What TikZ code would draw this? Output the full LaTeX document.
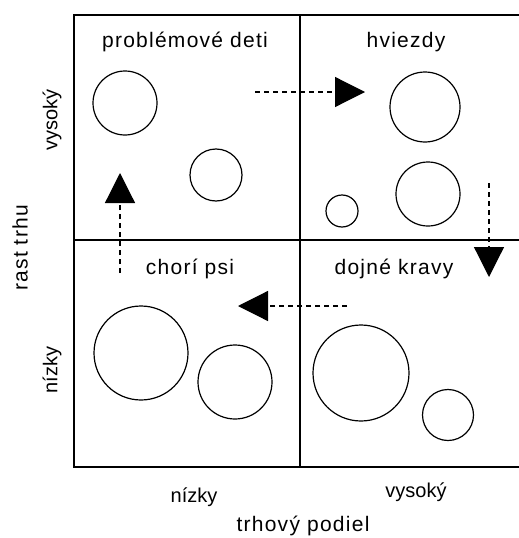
\documentclass[tikz,border=0pt]{standalone}
\usepackage{fontspec}
\setmainfont{Liberation Sans}
\newfontfamily\widefont[LetterSpace=6]{Liberation Sans}
\usetikzlibrary{arrows.meta}

\begin{document}
\begin{tikzpicture}[x=1pt,y=-1pt,
  frame/.style={line width=2pt},
  bubble/.style={circle,draw,line width=1.2pt,inner sep=0pt},
  title/.style={font=\widefont\fontsize{21}{24}\selectfont,inner sep=0pt},
  level/.style={font=\fontsize{20}{23}\selectfont,inner sep=0pt},
  move/.style={line width=1.2pt,dash pattern=on 5pt off 4pt,
    -{Triangle[length=30pt,width=30pt]}}]
  \useasboundingbox (0,0) rectangle (519,538);

  % quadrant frame
  \coordinate (tl) at (74,15);
  \coordinate (tr) at (519,15);
  \coordinate (bl) at (74,467);
  \coordinate (br) at (519,467);
  \coordinate (mt) at (300,15);
  \coordinate (mb) at (300,467);
  \coordinate (ml) at (74,240);
  \coordinate (mr) at (519,240);
  \draw[frame] (tr) -- (tl) -- (bl) -- (br);
  \draw[frame] (mt) -- (mb);
  \draw[frame] (ml) -- (mr);

  % quadrant titles
  \node[title] (q1) at (185,42) {problémové deti};
  \node[title] (q2) at (406,42) {hviezdy};
  \node[title] (q3) at (190,269) {chorí psi};
  \node[title] (q4) at (394,269) {dojné kravy};

  % bubbles
  \node[bubble,minimum size=64pt] (c1) at (125,103) {};
  \node[bubble,minimum size=52pt] (c2) at (216,175) {};
  \node[bubble,minimum size=70pt] (c3) at (425,107) {};
  \node[bubble,minimum size=64pt] (c4) at (428,194) {};
  \node[bubble,minimum size=32pt] (c5) at (342,211) {};
  \node[bubble,minimum size=94pt] (c6) at (141,353) {};
  \node[bubble,minimum size=74pt] (c7) at (235,382) {};
  \node[bubble,minimum size=96pt] (c8) at (361,373) {};
  \node[bubble,minimum size=51pt] (c9) at (448,415) {};

  % movement between quadrants
  \coordinate (a1s) at (255,92);  \coordinate (a1e) at (365,92);
  \coordinate (a2s) at (489,183); \coordinate (a2e) at (489,277);
  \coordinate (a3s) at (347,306); \coordinate (a3e) at (238,306);
  \coordinate (a4s) at (120,273); \coordinate (a4e) at (120,173);
  \draw[move] (a1s) -- (a1e);
  \draw[move] (a2s) -- (a2e);
  \draw[move] (a3s) -- (a3e);
  \draw[move] (a4s) -- (a4e);

  % axes
  \node[level,rotate=90] (yhi) at (52,120) {vysoký};
  \node[level,rotate=90] (ylo) at (52,370) {nízky};
  \node[title,rotate=90] (yax) at (20,248) {rast trhu};
  \node[level] (xlo) at (194,497) {nízky};
  \node[level] (xhi) at (416,492) {vysoký};
  \node[title] (xax) at (303,526) {trhový podiel};
\end{tikzpicture}
\end{document}
